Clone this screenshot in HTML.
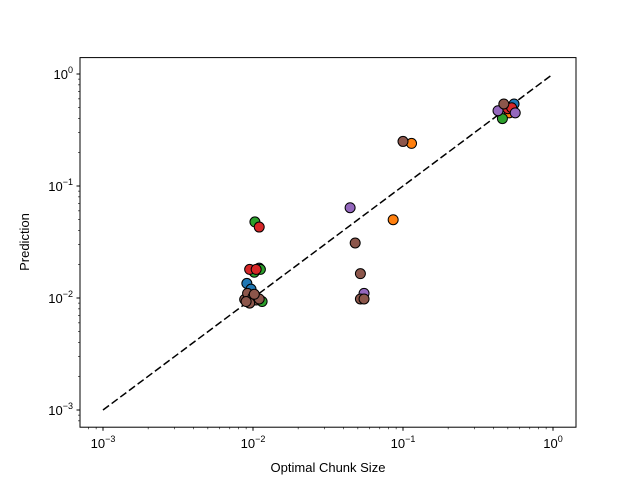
<!DOCTYPE html>
<html><head><meta charset="utf-8"><style>
body{margin:0;background:#fff;}
svg{display:block;font-family:"Liberation Sans","DejaVu Sans",sans-serif;}
</style></head><body>
<svg id="chart" width="640" height="480" viewBox="0 0 640 480" xmlns="http://www.w3.org/2000/svg">
<rect x="0" y="0" width="640" height="480" fill="#fff"/>
<g id="marks"></g>
<rect x="80" y="57.6" width="496" height="369.6" fill="none" stroke="#000" stroke-width="1"/>
<g id="ticks"></g>
<text x="328" y="472" font-size="13" text-anchor="middle">Optimal Chunk Size</text>
<text x="0" y="0" font-size="13" text-anchor="middle" transform="translate(29,242) rotate(-90)">Prediction</text>
</svg>
<script>
const seriesColors = ["#1f77b4","#ff7f0e","#2ca02c","#d62728","#9467bd","#8c564b"];
const seriesNames = ["blue","orange","green","red","purple","brown"];
const seriesX = [
  [0.011,0.0091,0.0097,0.55,0.0095],
  [0.086,0.114,0.51,0.0093],
  [0.0103,0.0102,0.0112,0.46,0.0115],
  [0.011,0.0095,0.0105,0.50,0.53],
  [0.0444,0.055,0.43,0.56,0.0098],
  [0.048,0.052,0.052,0.055,0.1,0.47,0.0088,0.0092,0.0100,0.0105,0.0095,0.0110,0.0090,0.0102]
];
const seriesY = [
  [0.0185,0.0135,0.012,0.54,0.0095],
  [0.05,0.24,0.45,0.0092],
  [0.0478,0.017,0.018,0.40,0.0093],
  [0.043,0.018,0.018,0.49,0.50],
  [0.064,0.011,0.47,0.45,0.0094],
  [0.031,0.0165,0.0098,0.0098,0.25,0.54,0.0097,0.0110,0.0102,0.0096,0.0090,0.0098,0.0093,0.0108]
];
const xTicks = [0.001,0.01,0.1,1];
const yTicks = [0.001,0.01,0.1,1];
const tickLabels = ["-3","-2","-1","0"];
const NS="http://www.w3.org/2000/svg";
function xs(v){return 103+150*(Math.log10(v)+3);}
function ys(v){return 410-112*(Math.log10(v)+3);}
const marks=document.getElementById('marks');
const ticks=document.getElementById('ticks');
function mk(tag,attrs,parent){const e=document.createElementNS(NS,tag);for(const k in attrs)e.setAttribute(k,attrs[k]);parent.appendChild(e);return e;}
const diag=mk('line',{x1:xs(0.001),y1:ys(0.001),x2:xs(1),y2:ys(1),stroke:'#000','stroke-width':1.5,'stroke-dasharray':'7.5,3.3'},marks);


seriesX.forEach((arr,s)=>{arr.forEach((xv,i)=>{
  const c=mk('circle',{cx:xs(xv),cy:ys(seriesY[s][i]),r:5,fill:seriesColors[s],stroke:'#000','stroke-width':1},marks);
  
  
});});
xTicks.forEach((v,i)=>{
  const x=xs(v);
  mk('line',{x1:x,y1:427.2,x2:x,y2:430.7,stroke:'#000'},ticks);
  const t=mk('text',{x:x,y:448,'font-size':13,'text-anchor':'middle'},ticks);
  
  
  t.innerHTML='10<tspan dy="-6" font-size="9">'+tickLabels[i].replace('-','\u2212')+'</tspan>';
  for(let m=2;m<10;m++){const mv=v*m;const mx=xs(mv);if(mx<576)mk('line',{x1:mx,y1:427.2,x2:mx,y2:429.2,stroke:'#000','stroke-width':0.6},ticks);}
});
for(let m=7;m<10;m++){const mx=xs(0.0001*m);if(mx>80)mk('line',{x1:mx,y1:427.2,x2:mx,y2:429.2,stroke:'#000','stroke-width':0.6},ticks);}
yTicks.forEach((v,i)=>{
  const y=ys(v);
  mk('line',{x1:80,y1:y,x2:76.5,y2:y,stroke:'#000'},ticks);
  const t=mk('text',{x:73,y:y+5,'font-size':13,'text-anchor':'end'},ticks);
  
  
  t.innerHTML='10<tspan dy="-6" font-size="9">'+tickLabels[i].replace('-','\u2212')+'</tspan>';
  for(let m=2;m<10;m++){const my=ys(v*m);if(my>57.6)mk('line',{x1:80,y1:my,x2:78,y2:my,stroke:'#000','stroke-width':0.6},ticks);}
});
for(let m=8;m<10;m++){const my=ys(0.0001*m);if(my<427.2)mk('line',{x1:80,y1:my,x2:78,y2:my,stroke:'#000','stroke-width':0.6},ticks);}
</script>
</body></html>
